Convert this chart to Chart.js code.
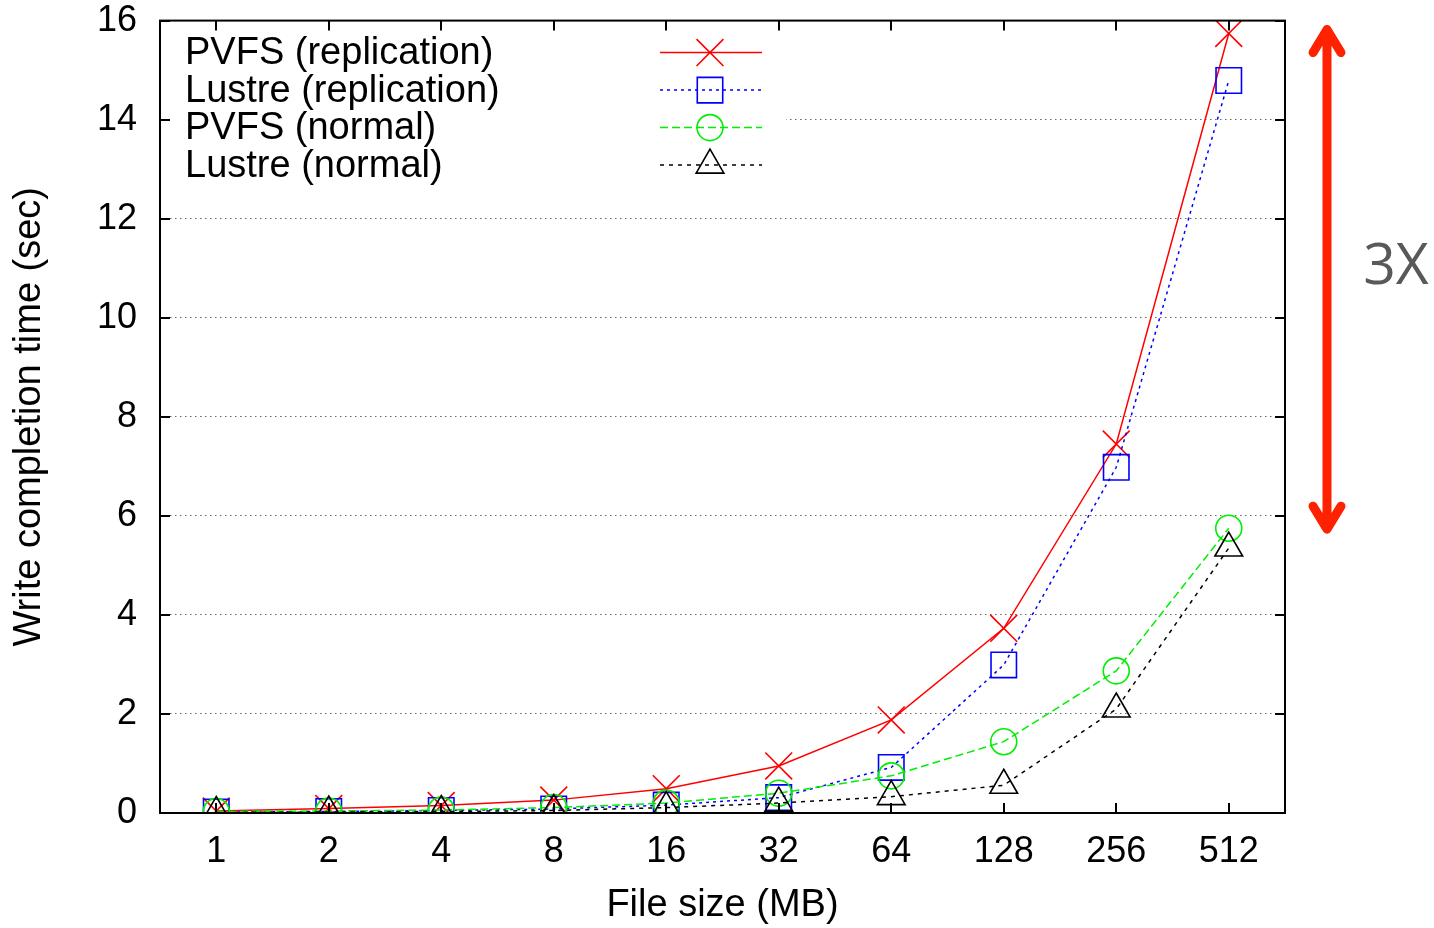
<!DOCTYPE html>
<html>
<head>
<meta charset="utf-8">
<script src="https://cdn.jsdelivr.net/npm/chart.js@4.4.0/dist/chart.umd.min.js"></script>
<style>
html, body { margin:0; padding:0; background:#fff; }
#wrap { width:1434px; height:928px; }
</style>
</head>
<body>
<div id="wrap"><canvas id="writeChart" width="1434" height="928"></canvas></div>
<script>
const fileSizes = ["1", "2", "4", "8", "16", "32", "64", "128", "256", "512"]
const pvfsReplication = [0.04, 0.09, 0.15, 0.26, 0.49, 0.95, 1.88, 3.73, 7.45, 15.74]
const lustreReplication = [0.02, 0.03, 0.05, 0.08, 0.16, 0.31, 0.92, 2.99, 6.98, 14.79]
const pvfsNormal = [0.03, 0.04, 0.06, 0.11, 0.2, 0.4, 0.75, 1.44, 2.87, 5.75]
const lustreNormal = [0.01, 0.02, 0.03, 0.05, 0.11, 0.2, 0.33, 0.56, 2.1, 5.35]
const yTicks = [0, 2, 4, 6, 8, 10, 12, 14, 16]

const FONT = "'Liberation Sans', Arial, Helvetica, sans-serif"

function makeSet(label, data, color, dash, style, radius, order) {
    return {
        label: label,
        data: data,
        borderColor: color,
        borderWidth: 1.5,
        borderDash: dash,
        pointStyle: style,
        pointRadius: radius,
        pointHoverRadius: radius,
        pointBorderColor: color,
        pointBackgroundColor: "rgba(0,0,0,0)",
        pointBorderWidth: 1.6,
        tension: 0,
        fill: false,
        order: order
    }
}

// gnuplot style frame: inward ticks on all four sides + black box
const framePlugin = {
    id: "frame",
    beforeDatasetsDraw(chart) {
        const ctx = chart.ctx
        const a = chart.chartArea
        // legend box hides the grid behind it
        ctx.save()
        ctx.fillStyle = "#fff"
        ctx.fillRect(a.left + 1, a.top + 1, 625, 162)
        ctx.restore()
    },
    afterDraw(chart) {
        const ctx = chart.ctx
        const a = chart.chartArea
        const xs = chart.scales.x
        const ys = chart.scales.y
        ctx.save()
        ctx.strokeStyle = "#000"
        ctx.lineWidth = 2
        ctx.beginPath()
        yTicks.forEach(v => {
            const py = Math.round(ys.getPixelForValue(v))
            ctx.moveTo(a.left, py); ctx.lineTo(a.left + 10, py)
            ctx.moveTo(a.right, py); ctx.lineTo(a.right - 10, py)
        })
        fileSizes.forEach((c, i) => {
            const px = Math.round(xs.getPixelForValue(i))
            ctx.moveTo(px, a.bottom); ctx.lineTo(px, a.bottom - 10)
            ctx.moveTo(px, a.top); ctx.lineTo(px, a.top + 10)
        })
        ctx.stroke()
        ctx.strokeRect(a.left, a.top, a.right - a.left, a.bottom - a.top)

        // legend: text on the left, sample on the right
        chart.data.datasets.forEach((ds, i) => {
            const ry = a.top + 32 + i * 37.5
            ctx.fillStyle = "#000"
            ctx.font = "38px " + FONT
            ctx.textAlign = "left"
            ctx.textBaseline = "middle"
            ctx.fillText(ds.label, a.left + 25, ry + 1)
            ctx.strokeStyle = ds.borderColor
            ctx.lineWidth = 1.5
            ctx.setLineDash(ds.borderDash)
            ctx.beginPath()
            ctx.moveTo(a.left + 500, ry); ctx.lineTo(a.left + 602, ry)
            ctx.stroke()
            ctx.setLineDash([])
            ctx.fillStyle = "rgba(0,0,0,0)"
            ctx.lineWidth = 1.6
            Chart.helpers.drawPoint(ctx, { pointStyle: ds.pointStyle, radius: ds.pointRadius, rotation: 0, borderWidth: 1.6 }, a.left + 550, ry)
        })

        // 3X annotation arrow
        const ax = a.right + 42
        const top = ys.getPixelForValue(15.9)
        const bot = ys.getPixelForValue(5.65)
        ctx.strokeStyle = "#ff2200"
        ctx.lineWidth = 9
        ctx.lineCap = "round"
        ctx.lineJoin = "round"
        ctx.beginPath()
        ctx.moveTo(ax, top + 4); ctx.lineTo(ax, bot - 4)
        ctx.moveTo(ax - 14, top + 27); ctx.lineTo(ax, top + 4); ctx.lineTo(ax + 14, top + 27)
        ctx.moveTo(ax - 14, bot - 27); ctx.lineTo(ax, bot - 4); ctx.lineTo(ax + 14, bot - 27)
        ctx.stroke()
        ctx.fillStyle = "#595959"
        ctx.font = "57px 'Open Sans', sans-serif"
        ctx.textAlign = "center"
        ctx.textBaseline = "middle"
        ctx.fillText("3X", ax + 69, 268)
        ctx.restore()
    }
}

const ctx = document.getElementById("writeChart").getContext("2d")
new Chart(ctx, {
    type: "line",
    data: {
        labels: fileSizes,
        datasets: [
            makeSet("PVFS (replication)", pvfsReplication, "#ff0000", [], "crossRot", 19, 4),
            makeSet("Lustre (replication)", lustreReplication, "#0000ff", [3, 4], "rect", 18, 3),
            makeSet("PVFS (normal)", pvfsNormal, "#00ee00", [8, 4], "circle", 13, 2),
            makeSet("Lustre (normal)", lustreNormal, "#000000", [4, 5], "triangle", 16, 1)
        ]
    },
    options: {
        responsive: false,
        animation: false,
        devicePixelRatio: 1,
        layout: { padding: { left: 0, right: 149, top: 20, bottom: 0 } },
        plugins: { legend: { display: false }, tooltip: { enabled: false } },
        scales: {
            x: {
                offset: true,
                grid: { display: false, drawTicks: false },
                border: { display: false },
                ticks: { color: "#000", font: { family: FONT, size: 36 }, padding: 17, maxRotation: 0 },
                title: { display: true, text: "File size (MB)", color: "#000", font: { family: FONT, size: 38 }, padding: { top: 0, bottom: 0 } },
                afterFit(s) { s.height = 115; s.paddingLeft = 0; s.paddingRight = 0 }
            },
            y: {
                min: 0,
                max: 16,
                grid: { color: "#666", lineWidth: 1, drawTicks: false },
                border: { display: false, dash: [1.5, 3.5] },
                ticks: { stepSize: 2, color: "#000", font: { family: FONT, size: 36 }, padding: 23 },
                title: { display: true, text: "Write completion time (sec)", color: "#000", font: { family: FONT, size: 38 }, padding: { top: 7, bottom: 0 } },
                afterFit(s) { s.width = 160; s.paddingTop = 0; s.paddingBottom = 0 }
            }
        }
    },
    plugins: [framePlugin]
})
</script>
</body>
</html>
